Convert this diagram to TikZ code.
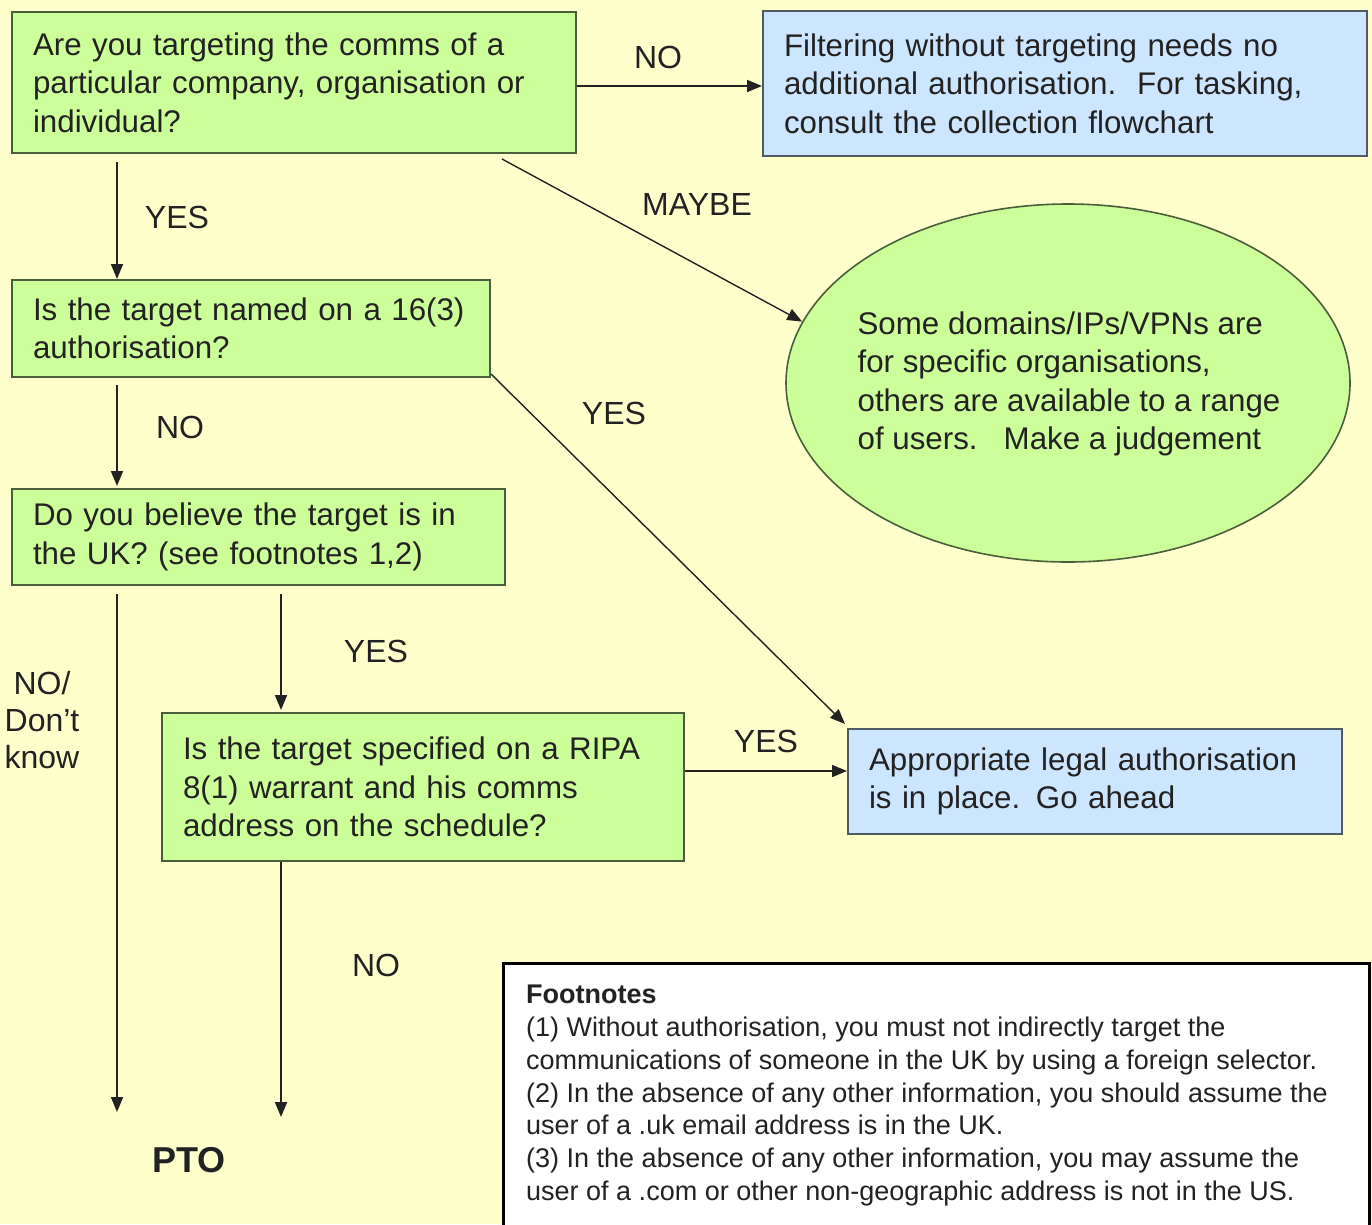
\documentclass[tikz,border=0pt]{standalone}
\usepackage{fontspec}
\setmainfont{Liberation Sans}
\usetikzlibrary{shapes.geometric,arrows.meta,calc}
\definecolor{bg}{HTML}{FFFFCC}
\definecolor{gfill}{HTML}{CCFF99}
\definecolor{gline}{HTML}{4A5E3C}
\definecolor{bfill}{HTML}{CCE6FF}
\definecolor{bline}{HTML}{4E5A66}
\definecolor{ink}{HTML}{222222}
\begin{document}
\begin{tikzpicture}[x=1pt,y=-1pt,
  box/.style={draw, line width=2pt, align=left, inner xsep=21pt, inner ysep=0pt,
    font=\fontsize{31.3}{38.5}\selectfont, anchor=north west, text=ink},
  gbox/.style={box, fill=gfill, draw=gline},
  bbox/.style={box, fill=bfill, draw=bline},
  lbl/.style={font=\fontsize{32}{37}\selectfont, text=ink, inner sep=0pt},
  arr/.style={-{Triangle[length=15pt,width=12pt]}, line width=1.9pt, draw=ink}
]
\fill[bg] (0,0) rectangle (1372,1224);
\useasboundingbox (0,0) rectangle (1372,1224);

\node[gbox, minimum width=564pt, minimum height=141pt, text width=522pt] (b1) at (11,11)
  {Are you targeting the comms of a\\particular company, organisation or\\individual?};
\node[bbox, minimum width=604pt, minimum height=145pt, text width=562pt] (bl1) at (762,10)
  {Filtering without targeting needs no\\additional authorisation.\ \ For tasking,\\consult the collection flowchart};
\node[gbox, minimum width=478pt, minimum height=97pt, text width=436pt] (b2) at (11,279)
  {Is the target named on a 16(3)\\authorisation?};
\node[gbox, minimum width=493pt, minimum height=96pt, text width=451pt] (b3) at (11,488)
  {Do you believe the target is in\\the UK? (see footnotes 1,2)};
\node[gbox, minimum width=522pt, minimum height=148pt, text width=480pt] (b4) at (161,712)
  {Is the target specified on a RIPA\\8(1) warrant and his comms\\address on the schedule?};
\node[bbox, minimum width=494pt, minimum height=105pt, text width=452pt] (bl2) at (847,728)
  {Appropriate legal authorisation\\is in place. Go ahead};

\node[ellipse, draw=gline, fill=gfill, line width=1.6pt, minimum width=564pt, minimum height=358pt, inner sep=0pt] (ell) at (1068,383) {};
\node[align=left, font=\fontsize{31.3}{38.5}\selectfont, text=ink, inner sep=0pt] (elltext) at (1069,384)
  {Some domains/IPs/VPNs are\\for specific organisations,\\others are available to a range\\of users.\ \ \ Make a judgement};

% footnotes
\node[draw=black, fill=white, line width=3pt, anchor=north west, minimum width=866pt, minimum height=290pt, inner sep=0pt] (fn) at (502,962) {};
\node[align=left, anchor=north west, inner sep=0pt, text=ink, font=\fontsize{27}{32.8}\selectfont] (fntext) at (526,985)
  {\textbf{Footnotes}\\
   (1) Without authorisation, you must not indirectly target the\\
   communications of someone in the UK by using a foreign selector.\\
   (2) In the absence of any other information, you should assume the\\
   user of a .uk email address is in the UK.\\
   (3) In the absence of any other information, you may assume the\\
   user of a .com or other non-geographic address is not in the US.};

% free ends
\coordinate (pto1) at (117,1112);
\coordinate (pto2) at (281,1117);
\node[font=\bfseries\fontsize{36}{40}\selectfont, text=ink, inner sep=0pt] (pto) at (189,1160) {PTO};

% connectors
\draw[arr] (b1.east |- 0,86) -- (bl1.west |- 0,86);
\draw[arr, shorten <=8pt] (b1.south -| 117,0) -- (b2.north -| 117,0);
\draw[arr, line width=1.4pt] ($(b1.south west)+(491,5)$) -- (ell.167);
\draw[arr, shorten <=7pt, shorten >=2pt] (b2.south -| 117,0) -- (b3.north -| 117,0);
\draw[arr, line width=1.4pt] ($(b2.south east)+(0,-4)$) -- ($(bl2.north west)+(-2,-4)$);
\draw[arr, shorten <=8pt, shorten >=2pt] (b3.south -| 281,0) -- (b4.north -| 281,0);
\draw[arr, shorten <=8pt] (b3.south -| 117,0) -- (pto1);
\draw[arr] (b4.east |- 0,771) -- (bl2.west |- 0,771);
\draw[arr] (b4.south -| 281,0) -- (pto2);

% labels
\node[lbl] (l1) at (658,57) {NO};
\node[lbl] (l2) at (177,217) {YES};
\node[lbl] (l3) at (697,204) {MAYBE};
\node[lbl] (l4) at (180,427) {NO};
\node[lbl] (l5) at (614,413) {YES};
\node[lbl] (l6) at (376,651) {YES};
\node[lbl, align=center] (l7) at (42,720) {NO/\\Don't\\know};
\node[lbl] (l8) at (766,741) {YES};
\node[lbl] (l9) at (376,965) {NO};
\end{tikzpicture}
\end{document}
